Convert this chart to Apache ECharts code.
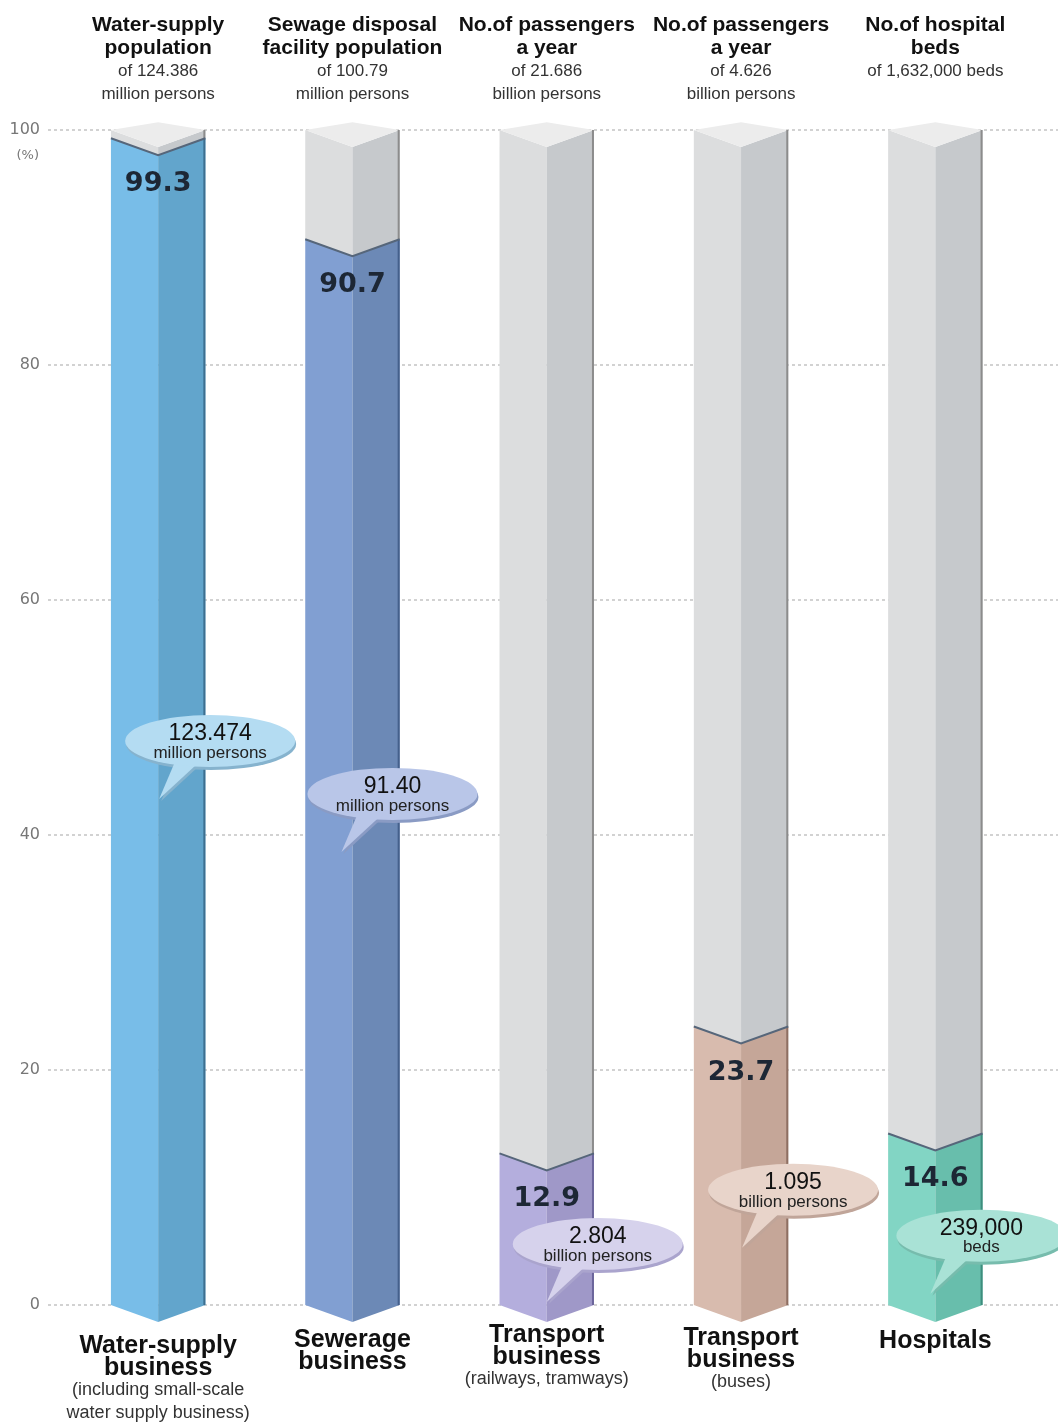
<!DOCTYPE html>
<html><head><meta charset="utf-8">
<script src="https://cdn.jsdelivr.net/npm/echarts@6.0.0/dist/echarts.min.js"></script>
<style>html,body{margin:0;padding:0;background:#fff}#c{width:1058px;height:1424px}</style>
</head><body><div id="c"></div>
<script>
// ---------- data ----------
const categories = ['Water-supply business', 'Sewerage business', 'Transport business (railways, tramways)', 'Transport business (buses)', 'Hospitals'];
const shareValues = [99.3, 90.7, 12.9, 23.7, 14.6];
const bubbleNumbers = ['123.474', '91.40', '2.804', '1.095', '239,000'];
const bubbleUnits = ['million persons', 'million persons', 'billion persons', 'billion persons', 'beds'];
const headerTitles = [['Water-supply', 'population'], ['Sewage disposal', 'facility population'], ['No.of passengers', 'a year'], ['No.of passengers', 'a year'], ['No.of hospital', 'beds']];
const headerTotals = [['of 124.386', 'million persons'], ['of 100.79', 'million persons'], ['of 21.686', 'billion persons'], ['of 4.626', 'billion persons'], ['of 1,632,000 beds']];
const footerTitles = [['Water-supply', 'business'], ['Sewerage', 'business'], ['Transport', 'business'], ['Transport', 'business'], ['Hospitals']];
const footerNotes = [['(including small-scale', 'water supply business)'], [], ['(railways, tramways)'], ['(buses)'], []];
const yTicks = [0, 20, 40, 60, 80, 100];

// ---------- layout / style ----------
const bubbleLayout = [
  { dx: 52, v: 48.0 },
  { dx: 40, v: 43.5 },
  { dx: 51, v: 5.2 },
  { dx: 52, v: 9.8 },
  { dx: 46, v: 5.9 }
];
const footerOffset = [30, 24, 19, 22, 25];
const barColors = [
  { l: '#78BDE8', r: '#62A5CC', e: '#3d6f90', bf: '#B4DCF2', bs: '#86B3CE' },
  { l: '#819FD2', r: '#6C89B6', e: '#44608c', bf: '#B9C6E8', bs: '#8A9BC4' },
  { l: '#B4AEDD', r: '#9F98C8', e: '#6b659b', bf: '#D6D2EC', bs: '#AAA4CD' },
  { l: '#D8BBAE', r: '#C5A698', e: '#8e6f62', bf: '#E8D4CA', bs: '#C0A599' },
  { l: '#82D5C4', r: '#68BEAC', e: '#3e8d7d', bf: '#A9E2D6', bs: '#77BCAD' }
];
const grayL = '#DCDDDE', grayR = '#C6C9CC', grayEdge = '#8c8c8c', topFace = '#ECECEC';
const GRID = { left: 61, right: 25.5, top: 130, bottom: 119 };

function renderBar(params, api) {
  const i = api.value(0), v = api.value(1);
  const b = api.coord([i, 0]), t = api.coord([i, v]), f = api.coord([i, 100]);
  const cx = b[0], y0 = b[1], yv = t[1], y100 = f[1];
  const hw = api.size([1, 0])[0] * 0.243;
  const d = hw * 0.36;
  const c = barColors[i];
  const footer = footerTitles[i].map(s => '{t|' + s + '}').concat(footerNotes[i].map(s => '{n|' + s + '}')).join('\n');
  return {
    type: 'group',
    children: [
      { type: 'polygon', shape: { points: [[cx - hw, y100], [cx, y100 + d], [cx, yv + d], [cx - hw, yv]] }, style: { fill: grayL } },
      { type: 'polygon', shape: { points: [[cx, y100 + d], [cx + hw, y100], [cx + hw, yv], [cx, yv + d]] }, style: { fill: grayR } },
      { type: 'polygon', shape: { points: [[cx - hw, y100], [cx, y100 - d * 0.45], [cx + hw, y100], [cx, y100 + d]] }, style: { fill: topFace } },
      { type: 'polygon', shape: { points: [[cx - hw, yv], [cx, yv + d], [cx, y0 + d], [cx - hw, y0]] }, style: { fill: c.l } },
      { type: 'polygon', shape: { points: [[cx, yv + d], [cx + hw, yv], [cx + hw, y0], [cx, y0 + d]] }, style: { fill: c.r } },
      { type: 'line', shape: { x1: cx + hw - 1, y1: y100, x2: cx + hw - 1, y2: yv }, style: { stroke: grayEdge, lineWidth: 2 } },
      { type: 'line', shape: { x1: cx + hw - 1, y1: yv, x2: cx + hw - 1, y2: y0 }, style: { stroke: c.e, lineWidth: 2 } },
      { type: 'polyline', shape: { points: [[cx - hw, yv], [cx, yv + d], [cx + hw, yv]] }, style: { stroke: '#56667a', lineWidth: 2, fill: null } },
      { type: 'text', style: { x: cx, y: yv + d + 29, text: String(v), fill: '#1d2735', font: 'bold 27px "DejaVu Sans"', align: 'center', verticalAlign: 'middle' } },
      {
        type: 'text', style: {
          x: cx, y: y0 + footerOffset[i], text: footer, align: 'center', verticalAlign: 'top',
          rich: {
            t: { fontSize: 25, fontWeight: 'bold', lineHeight: 22, fill: '#111', fontFamily: '"Liberation Sans"', align: 'center' },
            n: { fontSize: 18, lineHeight: 23, fill: '#333', fontFamily: '"Liberation Sans"', align: 'center' }
          }
        }
      }
    ]
  };
}

function renderBubble(params, api) {
  const i = api.value(0);
  const p = api.coord([i, api.value(1)]);
  const L = bubbleLayout[i], c = barColors[i];
  const rx = 85, ry = 26;
  const tail = [[-34, 18], [-12, 22], [-51, 58]];
  const off = (pts, dx, dy) => pts.map(q => [q[0] + dx, q[1] + dy]);
  return {
    type: 'group', x: p[0] + L.dx, y: p[1],
    children: [
      { type: 'polygon', shape: { points: off(tail, 2, 2) }, style: { fill: c.bs } },
      { type: 'circle', shape: { cx: 0, cy: 0, r: rx }, scaleY: ry / rx, y: 3, x: 1, style: { fill: c.bs } },
      { type: 'polygon', shape: { points: tail }, style: { fill: c.bf } },
      { type: 'circle', shape: { cx: 0, cy: 0, r: rx }, scaleY: ry / rx, style: { fill: c.bf } },
      { type: 'text', style: { x: 0, y: -7, text: bubbleNumbers[i], fill: '#111', font: '23px "Liberation Sans"', align: 'center', verticalAlign: 'middle' } },
      { type: 'text', style: { x: 0, y: 12, text: bubbleUnits[i], fill: '#222', font: '17px "Liberation Sans"', align: 'center', verticalAlign: 'middle' } }
    ]
  };
}

const chart = echarts.init(document.getElementById('c'), null, { renderer: 'canvas' });
chart.setOption({
  backgroundColor: '#ffffff',
  animation: false,
  textStyle: { fontFamily: '"Liberation Sans", Arial, sans-serif' },
  grid: [
    Object.assign({ outerBoundsMode: 'none', containLabel: false }, GRID),
    { left: 48, right: 0, top: GRID.top, bottom: GRID.bottom, outerBoundsMode: 'none', containLabel: false }
  ],
  xAxis: [
    {
      type: 'category', gridIndex: 0, position: 'bottom', data: categories,
      axisLine: { show: false }, axisTick: { show: false }, splitLine: { show: false },
      axisLabel: { show: false }
    },
    {
      type: 'category', gridIndex: 0, position: 'top', data: categories,
      axisLine: { show: false }, axisTick: { show: false }, splitLine: { show: false },
      axisLabel: {
        interval: 0, margin: 116, verticalAlign: 'top',
        formatter: (val, idx) => headerTitles[idx].map(s => '{t|' + s + '}').concat(headerTotals[idx].map(s => '{s|' + s + '}')).join('\n'),
        rich: {
          t: { fontSize: 21, fontWeight: 'bold', lineHeight: 23, color: '#111', fontFamily: '"Liberation Sans"' },
          s: { fontSize: 17, lineHeight: 23, color: '#333', fontFamily: '"Liberation Sans"' }
        }
      }
    },
    { type: 'value', gridIndex: 1, show: false, min: 0, max: 1 }
  ],
  yAxis: [
    {
      type: 'value', gridIndex: 0, min: 0, max: 100, interval: 20,
      axisLine: { show: false }, axisTick: { show: false }, splitLine: { show: false },
      axisLabel: { margin: 21, color: '#777', fontSize: 16, fontFamily: '"DejaVu Sans"', formatter: v => yTicks.indexOf(v) >= 0 ? String(v) : '' },
      name: '(%)', nameLocation: 'end', nameGap: -32,
      nameTextStyle: { color: '#777', fontSize: 13, fontFamily: '"DejaVu Sans"', align: 'right', padding: [0, 22, 0, 0] }
    },
    {
      type: 'value', gridIndex: 1, min: 0, max: 100, interval: 20,
      axisLine: { show: false }, axisTick: { show: false }, axisLabel: { show: false },
      splitLine: { show: true, lineStyle: { color: '#c4c4c4', type: [3, 3], width: 1.5 } }
    }
  ],
  series: [
    { type: 'custom', xAxisIndex: 0, yAxisIndex: 0, renderItem: renderBar, data: shareValues.map((v, i) => [i, v]), z: 3 },
    { type: 'custom', xAxisIndex: 0, yAxisIndex: 0, renderItem: renderBubble, data: bubbleLayout.map((b, i) => [i, b.v]), z: 4 }
  ]
});
</script>
</body></html>
